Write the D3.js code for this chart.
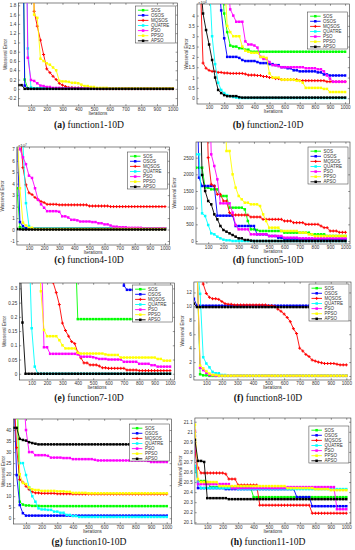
<!DOCTYPE html>
<html>
<head>
<meta charset="utf-8">
<script src="https://cdn.jsdelivr.net/npm/d3@7"></script>
<style>
body { margin: 0; background: #fff; }
svg { display: block; }
</style>
</head>
<body>
<svg width="355" height="550"></svg>
<script>
const algorithms = ['SOS', 'OSOS', 'MQSOS', 'QUATRE', 'PSO', 'PPSO', 'APSO'];
const colors = ['#00ff00', '#0000ff', '#ff0000', '#00ffff', '#ff00ff', '#ffff00', '#000000'];
const iterTicks = [100, 200, 300, 400, 500, 600, 700, 800, 900, 1000];
const sampleIters = d3.range(20, 1001, 20);

// every series: [iteration, error] where the curve changes, the error is held until the next pair
// order of series follows algorithms
const f1Ticks = [-0.2, 0, 0.2, 0.4, 0.6, 0.8, 1, 1.2, 1.4, 1.6, 1.8];
const f1Series = [
  [[20, 6], [60, 0.2], [80, 0.01], [120, 0.004]],
  [[20, 6], [40, 6], [60, 0.07], [80, 0.003]],
  [[20, 6], [100, 6], [120, 1.67], [140, 1.35], [160, 1.05], [180, 0.74], [200, 0.43], [220, 0.35], [240, 0.27], [260, 0.2], [280, 0.12], [300, 0.08], [320, 0.05], [340, 0.03], [380, 0.02], [440, 0.01], [520, 0.004]],
  [[20, 6], [60, 6], [80, 0.87], [100, 0.03], [120, 0.01]],
  [[20, 6], [60, 6], [80, 0.67], [100, 0.19], [120, 0.17], [140, 0.12], [160, 0.07], [180, 0.06], [200, 0.04], [240, 0.02], [300, 0.01]],
  [[20, 6], [100, 6], [120, 1.6], [140, 1.53], [160, 0.65], [180, 0.6], [200, 0.55], [220, 0.52], [240, 0.46], [260, 0.4], [280, 0.17], [300, 0.16], [340, 0.15], [360, 0.13], [400, 0.12], [420, 0.09], [440, 0.06], [480, 0.04], [520, 0.02], [600, 0.01]],
  [[20, 0.08], [40, 0.08], [60, 0]]
];

const f2Ticks = [0, 0.5, 1, 1.5, 2, 2.5, 3, 3.5, 4];
const f2Series = [
  [[20, 6], [180, 6], [200, 4.1], [220, 3.2], [240, 2.55], [260, 2.5], [300, 2.42], [340, 2.35], [380, 2.25]],
  [[20, 6], [160, 6], [180, 4.25], [200, 2.9], [220, 2.0], [300, 1.95], [320, 1.85], [340, 1.8], [420, 1.75], [440, 1.7], [500, 1.65], [540, 1.6], [580, 1.5], [620, 1.45], [660, 1.35], [700, 1.3], [820, 1.25], [860, 1.15], [900, 1.1]],
  [[20, 6], [40, 6], [60, 1.7], [80, 1.45], [100, 1.35], [120, 1.3], [160, 1.25], [200, 1.22], [240, 1.2], [340, 1.17], [360, 1.12], [420, 1.1], [460, 1.05], [500, 1.0], [540, 0.95], [580, 0.9], [700, 0.85], [880, 0.8]],
  [[20, 6], [100, 6], [120, 3], [140, 1.65], [160, 0.75], [180, 0.4], [200, 0.25], [220, 0.15], [240, 0.1], [260, 0.06], [280, 0.03], [300, 0.01]],
  [[20, 6], [220, 6], [240, 4.3], [260, 4.0], [280, 3.7], [320, 3.7], [340, 2.75], [360, 2.6], [400, 2.55], [420, 2.45], [440, 2.0], [460, 1.9], [500, 1.75], [520, 1.6], [560, 1.55], [580, 1.5], [740, 1.45], [820, 1.4], [860, 1.3], [880, 1.1], [900, 0.95], [920, 0.8]],
  [[20, 6], [200, 6], [220, 3.5], [240, 3.2], [260, 3.0], [300, 3.0], [320, 2.5], [340, 2.3], [360, 2.25], [380, 2.2], [440, 2.0], [480, 1.95], [500, 1.2], [520, 1.0], [580, 0.9], [680, 0.85], [720, 0.75], [740, 0.5], [860, 0.45], [900, 0.3]],
  [[20, 6], [40, 6], [60, 4.1], [80, 3.3], [100, 2.6], [120, 1.85], [140, 1.0], [160, 0.4], [180, 0.25], [200, 0.15], [220, 0.1], [300, 0.05], [320, 0.03]]
];

const f4Ticks = [-1, 0, 1, 2, 3, 4, 5, 6, 7];
const f4Series = [
  [[20, 3.6], [40, 0.2], [60, 0.08]],
  [[20, 9], [40, 0.65], [60, 0.3], [80, 0.12], [100, 0.1]],
  [[20, 9], [40, 9], [60, 5.4], [80, 3.9], [100, 3.2], [120, 3.05], [140, 2.8], [160, 2.6], [180, 2.45], [200, 2.35], [220, 2.2], [300, 2.15], [500, 2.05], [640, 2.0]],
  [[20, 9], [60, 7.5], [80, 2.3], [100, 0.3], [120, 0.08]],
  [[20, 9], [40, 7.0], [60, 6.3], [80, 5.7], [100, 4.7], [120, 4.5], [140, 3.6], [160, 2.6], [180, 2.2], [200, 1.9], [220, 1.6], [300, 1.55], [320, 1.15], [360, 1.05], [380, 0.85], [420, 0.8], [440, 0.7], [520, 0.65], [560, 0.55], [600, 0.45], [640, 0.35], [660, 0.25], [700, 0.2], [760, 0.15], [860, 0.1]],
  [[20, 9], [40, 3.6], [60, 0.6], [80, 0.35], [100, 0.15], [140, 0.05]],
  [[20, 0.05], [40, 0.02], [60, 0]]
];

const f5Ticks = [0, 500, 1000, 1500, 2000, 2500];
const f5Series = [
  [[20, 2200], [60, 2200], [80, 1600], [120, 1550], [160, 1550], [180, 1350], [220, 1350], [240, 1000], [320, 1000], [340, 950], [360, 600], [380, 350], [420, 330], [440, 300], [560, 300], [600, 250], [780, 200], [880, 150]],
  [[20, 6000], [40, 1900], [60, 1650], [140, 1650], [160, 760], [260, 760], [280, 450], [400, 450], [420, 200], [480, 200], [500, 150], [560, 100], [600, 60], [700, 50]],
  [[20, 6000], [80, 6000], [100, 2500], [120, 1700], [140, 1650], [160, 1400], [200, 1200], [240, 850], [260, 780], [360, 780], [380, 720], [440, 720], [460, 650], [560, 650], [600, 600], [660, 550], [740, 500], [840, 450], [860, 400], [900, 300], [960, 260]],
  [[20, 2600], [40, 2600], [60, 830], [80, 750], [100, 480], [120, 230], [140, 200], [160, 130], [180, 80], [200, 40], [220, 20], [260, 0]],
  [[20, 6000], [100, 6000], [120, 2600], [140, 2250], [160, 1850], [180, 1130], [240, 1130], [260, 850], [280, 480], [300, 350], [360, 350], [380, 200], [480, 200], [500, 150], [580, 150], [600, 100], [680, 100], [700, 80]],
  [[20, 6000], [200, 6000], [220, 2700], [240, 2700], [260, 2000], [280, 1600], [300, 1350], [320, 1250], [340, 1150], [380, 1100], [440, 1050], [460, 800], [480, 600], [500, 400], [560, 400], [580, 300], [660, 300], [700, 250], [760, 200], [800, 150]],
  [[20, 6000], [60, 1980], [80, 1500], [100, 1200], [120, 1100], [140, 800], [160, 650], [180, 450], [200, 330], [220, 280], [240, 230], [260, 180], [280, 130], [300, 80], [340, 30], [380, 10], [400, 0]]
];

const f7Ticks = [0, 0.05, 0.1, 0.15, 0.2, 0.25, 0.3];
const f7Series = [
  [[20, 0.5], [380, 0.5], [400, 0.192]],
  [[20, 0.5], [680, 0.5], [700, 0.31], [720, 0.295]],
  [[20, 0.5], [220, 0.5], [240, 0.32], [260, 0.285], [280, 0.243], [300, 0.178], [320, 0.152], [340, 0.132], [360, 0.113], [380, 0.106], [400, 0.075], [420, 0.056], [440, 0.038], [480, 0.031], [540, 0.027], [560, 0.021], [600, 0.019], [720, 0.013], [800, 0.011]],
  [[20, 0.5], [80, 0.5], [100, 0.16], [120, 0.025], [140, 0]],
  [[20, 0.5], [160, 0.5], [180, 0.093], [200, 0.093], [220, 0.07], [400, 0.068], [420, 0.06], [500, 0.058], [520, 0.055], [540, 0.052], [600, 0.05], [700, 0.042], [800, 0.035], [880, 0.03], [920, 0.025]],
  [[20, 0.5], [140, 0.5], [160, 0.29], [180, 0.154], [200, 0.132], [260, 0.132], [280, 0.118], [300, 0.1], [320, 0.089], [380, 0.089], [400, 0.074], [420, 0.071], [580, 0.068], [600, 0.066], [680, 0.057], [920, 0.052], [960, 0.046]],
  [[20, 0.45], [40, 0.18], [60, 0]]
];

const f8Ticks = [0, 2, 4, 6, 8, 10, 12];
const f8Series = [
  [[20, 16], [40, 16], [60, 0.25], [80, 0.1], [120, 0.02]],
  [[20, 11.1], [40, 10.1]],
  [[20, 16], [60, 16], [80, 13.2], [100, 11.85], [120, 11.3], [140, 11.1], [180, 11.0], [200, 10.7], [220, 10.4], [240, 10.3], [280, 10.2], [500, 10.1], [540, 10.0], [560, 9.6], [580, 9.3], [600, 8.9], [620, 8.4], [640, 7.8], [660, 6.8], [680, 6.1], [700, 4.0], [720, 3.6], [740, 3.1], [760, 2.8], [780, 2.3], [800, 2.15], [820, 2.0], [840, 1.9], [860, 1.8], [940, 1.7], [960, 1.6]],
  [[20, 16], [40, 16], [60, 11.8], [80, 2.7], [100, 1.8], [120, 1.25], [140, 0.6], [160, 0.4], [200, 0.15], [240, 0.05]],
  [[20, 16], [40, 16], [60, 1.2], [80, 0.85], [100, 0.45], [120, 0.15], [160, 0.03]],
  [[20, 16], [40, 16], [60, 1.5], [80, 1.1], [100, 0.7], [120, 0.35], [140, 0.15], [180, 0.05]],
  [[20, 10.4], [40, 9.9]]
];

const f10Ticks = [0, 5, 10, 15, 20, 25, 30, 35, 40];
const f10Series = [
  [[20, 60], [40, 60], [60, 7.5], [80, 6.2], [100, 5.8], [140, 5.6], [200, 5.5]],
  [[20, 60], [40, 19.6], [60, 6.0], [80, 2.3], [100, 1.2]],
  [[20, 60], [40, 32], [60, 17.5], [80, 16.3], [100, 14.5], [120, 13], [140, 12], [160, 11.5], [200, 11.3], [300, 11.1], [400, 11.0]],
  [[20, 60], [40, 60], [60, 25], [80, 25], [100, 19.6], [120, 14], [140, 10], [160, 7.5], [180, 4.5], [200, 4], [240, 3.8], [280, 3.0], [320, 2.5], [360, 1.5], [400, 1.0], [440, 0.6]],
  [[20, 60], [80, 60], [100, 40], [120, 30], [160, 28.6], [240, 28.3], [260, 27.5], [340, 27.3], [400, 26.8], [540, 26.5], [560, 26.2], [880, 26.0], [900, 25.5]],
  [[20, 60], [40, 60], [60, 20], [80, 16], [100, 15.5], [120, 14], [140, 13.1], [160, 12.8], [200, 12.4], [300, 12.2], [360, 12.0], [400, 11.5], [500, 11.3]],
  [[20, 41], [40, 41], [60, 36], [80, 35.5], [100, 35.2], [120, 34.5], [140, 34.1], [160, 33.8], [180, 33.5]]
];

const f11Ticks = [20.1, 20.2, 20.3, 20.4, 20.5, 20.6, 20.7, 20.8, 20.9, 21, 21.1];
const f11Series = [
  [[20, 20.65], [40, 20.51], [100, 20.5], [120, 20.45], [380, 20.45], [400, 20.35]],
  [[20, 20.96], [40, 20.44], [220, 20.43], [680, 20.35], [780, 20.26]],
  [[20, 20.81], [40, 20.64], [60, 20.59], [220, 20.58], [240, 20.53], [300, 20.47], [440, 20.27], [780, 20.19]],
  [[20, 20.66], [40, 20.5], [60, 20.44], [300, 20.43]],
  [[20, 21.01], [40, 20.48], [160, 20.48], [260, 20.44], [620, 20.45], [940, 20.23]],
  [[20, 21.07], [40, 20.53], [60, 20.5], [180, 20.46], [620, 20.44], [800, 20.43], [900, 20.42]],
  [[20, 20.92], [40, 20.71], [80, 20.7], [100, 20.34], [240, 20.33]]
];

const captions = ['(a)', '(b)', '(c)', '(d)', '(e)', '(f)', '(g)', '(h)'];
const funcNames = ['function1-10D', 'function2-10D', 'function4-10D', 'function5-10D',
  'function7-10D', 'function8-10D', 'function10-10D', 'function11-10D'];

const xDomain = [20, 1030];

const panels = [
  {series: f1Series, ticks: f1Ticks, x: 18.4, y: 3, w: 159, h: 103, yDom: [-0.37, 1.85], legDy: 3, labOff: 11.5},
  {series: f2Series, ticks: f2Ticks, x: 197, y: 4, w: 152.6, h: 100, yDom: [-0.28, 4.56], legDy: 8, labOff: 9.5, exp: '4'},
  {series: f4Series, ticks: f4Ticks, x: 16.9, y: 147, w: 152.6, h: 98, yDom: [-1.35, 7.2], legDy: 5, labOff: 13, exp: '7'},
  {series: f5Series, ticks: f5Ticks, x: 196, y: 142, w: 154, h: 102, yDom: [-90, 2970], legDy: 5, labOff: 20},
  {series: f7Series, ticks: f7Ticks, x: 19.4, y: 283, w: 155.2, h: 97, yDom: [-0.022, 0.319], legDy: 2, labOff: 13.5},
  {series: f8Series, ticks: f8Ticks, x: 193.9, y: 282, w: 157.1, h: 98, yDom: [-0.57, 13.5], legDy: 2, labOff: 10},
  {series: f10Series, ticks: f10Ticks, x: 13.5, y: 419, w: 157.9, h: 105, yDom: [-2.6, 45], legDy: 5, labOff: 9},
  {series: f11Series, ticks: f11Ticks, x: 194.9, y: 418, w: 156, h: 106, yDom: [20.083, 21.137], legDy: 8, labOff: 13}
];
const captionY = [127.5, 127.5, 263, 263, 401, 401, 545, 545];

function valueAt(breaks, it) {
  let v = breaks[0][1];
  for (const b of breaks) {
    if (b[0] <= it) v = b[1];
  }
  return v;
}

function tickText(v) {
  return String(+v.toFixed(2));
}

const svg = d3.select('svg');
const axisFont = 'Liberation Sans, Arial, sans-serif';

panels.forEach(function (p, pi) {
  const x = d3.scaleLinear().domain(xDomain).range([p.x, p.x + p.w]);
  const y = d3.scaleLinear().domain(p.yDom).range([p.y + p.h, p.y]);
  const g = svg.append('g');

  svg.append('clipPath').attr('id', 'clip' + pi)
    .append('rect')
    .attr('x', p.x).attr('y', p.y).attr('width', p.w).attr('height', p.h);

  // axes with inward ticks, like matlab's box
  g.append('g')
    .attr('transform', 'translate(0,' + (p.y + p.h) + ')')
    .call(d3.axisBottom(x).tickValues(iterTicks).tickFormat(d3.format('d'))
      .tickSizeInner(-1.8).tickSizeOuter(0).tickPadding(2.2));
  g.append('g')
    .attr('transform', 'translate(' + p.x + ',0)')
    .call(d3.axisLeft(y).tickValues(p.ticks).tickFormat(tickText)
      .tickSizeInner(-1.8).tickSizeOuter(0).tickPadding(2.2));
  g.append('g')
    .attr('transform', 'translate(0,' + p.y + ')')
    .call(d3.axisTop(x).tickValues(iterTicks).tickSizeInner(-1.8).tickSizeOuter(0).tickFormat(''));
  g.append('g')
    .attr('transform', 'translate(' + (p.x + p.w) + ',0)')
    .call(d3.axisRight(y).tickValues(p.ticks).tickSizeInner(-1.8).tickSizeOuter(0).tickFormat(''));
  g.selectAll('.domain').remove();
  g.selectAll('.tick line').attr('stroke', '#333').attr('stroke-width', 0.5);
  g.selectAll('.tick text').attr('fill', '#333').style('font-size', '4.6px').style('font-family', axisFont);

  g.append('rect')
    .attr('x', p.x).attr('y', p.y).attr('width', p.w).attr('height', p.h)
    .attr('fill', 'none').attr('stroke', '#333').attr('stroke-width', 0.6);

  if (p.exp) {
    const t = g.append('text')
      .attr('x', p.x + 1).attr('y', p.y - 0.2)
      .style('font-size', '4.2px').style('font-family', axisFont).attr('fill', '#333');
    t.append('tspan').text('\u00d710');
    t.append('tspan').attr('dy', -1.3).style('font-size', '3.2px').text(p.exp);
  }

  g.append('text')
    .attr('x', p.x + p.w / 2).attr('y', p.y + p.h + 9)
    .attr('text-anchor', 'middle')
    .style('font-size', '4.6px').style('font-family', axisFont).attr('fill', '#333')
    .text('Iterations');

  g.append('text')
    .attr('transform', 'translate(' + (p.x - p.labOff) + ',' + (p.y + p.h / 2) + ') rotate(-90)')
    .attr('text-anchor', 'middle')
    .style('font-size', '4.6px').style('font-family', axisFont).attr('fill', '#333')
    .text('Wasseval Error');

  // curves
  const plot = g.append('g').attr('clip-path', 'url(#clip' + pi + ')');
  const line = d3.line().x(d => x(d[0])).y(d => y(d[1]));
  p.series.forEach(function (breaks, k) {
    const pts = sampleIters.map(it => [it, valueAt(breaks, it)]);
    plot.append('path')
      .datum(pts)
      .attr('d', line)
      .attr('fill', 'none')
      .attr('stroke', colors[k])
      .attr('stroke-width', 0.9);
    const marks = plot.selectAll(null)
      .data(pts)
      .enter();
    if (algorithms[k] === 'MQSOS') {
      marks.append('path')
        .attr('transform', d => 'translate(' + x(d[0]) + ',' + y(d[1]) + ')')
        .attr('d', 'M-1.5,0H1.5M0,-1.5V1.5')
        .attr('stroke', colors[k])
        .attr('stroke-width', 1);
    } else {
      marks.append('rect')
        .attr('x', d => x(d[0]) - 1.25)
        .attr('y', d => y(d[1]) - 1.25)
        .attr('width', 2.5).attr('height', 2.5)
        .attr('fill', colors[k]);
    }
  });

  // legend
  const lw = 40, lh = 37;
  const lx = p.x + p.w - lw - 2, ly = p.y + p.legDy;
  const leg = g.append('g').attr('transform', 'translate(' + lx + ',' + ly + ')');
  leg.append('rect').attr('width', lw).attr('height', lh)
    .attr('fill', '#fff').attr('stroke', '#333').attr('stroke-width', 0.5);
  algorithms.forEach(function (name, k) {
    const ey = 4.2 + k * 5.1;
    leg.append('line').attr('x1', 2.5).attr('x2', 13).attr('y1', ey).attr('y2', ey)
      .attr('stroke', colors[k]).attr('stroke-width', 0.9);
    if (name === 'MQSOS') {
      leg.append('path').attr('transform', 'translate(7.7,' + ey + ')')
        .attr('d', 'M-1.5,0H1.5M0,-1.5V1.5').attr('stroke', colors[k]).attr('stroke-width', 1);
    } else {
      leg.append('rect').attr('x', 6.45).attr('y', ey - 1.25).attr('width', 2.5).attr('height', 2.5)
        .attr('fill', colors[k]);
    }
    leg.append('text').attr('x', 15.5).attr('y', ey + 1.6)
      .style('font-size', '4.5px').style('font-family', axisFont).attr('fill', '#333')
      .text(name);
  });

  // caption under the panel
  const cap = svg.append('text')
    .attr('x', pi % 2 === 0 ? 89 : 268).attr('y', captionY[pi])
    .attr('text-anchor', 'middle')
    .style('font-family', 'Liberation Serif, Times New Roman, serif')
    .style('font-size', '9.6px').attr('fill', '#111');
  cap.append('tspan').style('font-weight', 'bold').text(captions[pi]);
  cap.append('tspan').text(' ' + funcNames[pi]);
});
</script>
</body>
</html>
